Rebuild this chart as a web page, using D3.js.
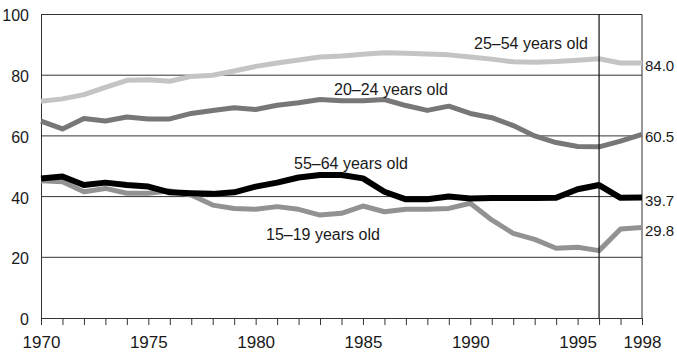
<!DOCTYPE html>
<html lang="en">
<head>
<meta charset="UTF-8">
<title>Labor force participation by age</title>
<script src="https://cdn.jsdelivr.net/npm/d3@7"></script>
<style>
    body { margin: 0; background: #fff; }
    svg { display: block; }
    text {
        font-family: "Liberation Sans", Arial, sans-serif;
        font-size: 16px;
        fill: #1a1a1a;
    }
    .x-axis text { font-size: 17px; }
    .end-label { font-size: 15px; }
</style>
</head>
<body>
<svg id="chart"></svg>
<script>
    const years = [1970, 1971, 1972, 1973, 1974, 1975, 1976, 1977, 1978, 1979,
                   1980, 1981, 1982, 1983, 1984, 1985, 1986, 1987, 1988, 1989,
                   1990, 1991, 1992, 1993, 1994, 1995, 1996, 1997, 1998];

    const age25to54 = [71.4, 72.2, 73.6, 76.0, 78.3, 78.5, 78.0, 79.6, 80.0, 81.4,
                       82.9, 84.0, 85.0, 86.0, 86.3, 86.9, 87.4, 87.2, 87.0, 86.7,
                       86.0, 85.3, 84.4, 84.3, 84.5, 84.9, 85.4, 84.0, 84.0];
    const age20to24 = [64.9, 62.3, 65.7, 64.9, 66.2, 65.6, 65.6, 67.4, 68.4, 69.3,
                       68.7, 70.1, 70.9, 72.0, 71.6, 71.6, 72.0, 70.0, 68.4, 69.8,
                       67.4, 66.0, 63.4, 60.0, 57.8, 56.5, 56.4, 58.3, 60.5];
    const age55to64 = [46.0, 46.6, 43.8, 44.6, 43.8, 43.3, 41.4, 41.1, 40.9, 41.4,
                       43.3, 44.6, 46.3, 47.1, 47.1, 46.0, 41.6, 39.1, 39.1, 40.0,
                       39.4, 39.5, 39.5, 39.5, 39.6, 42.4, 43.8, 39.6, 39.7];
    const age15to19 = [45.2, 44.9, 41.6, 42.7, 41.1, 41.1, 41.9, 40.5, 37.2, 36.1,
                       35.8, 36.7, 35.8, 33.9, 34.5, 36.9, 35.0, 35.8, 35.8, 36.1,
                       37.8, 32.3, 27.9, 25.9, 23.0, 23.3, 22.2, 29.3, 29.8];

    const yTicks = [0, 20, 40, 60, 80, 100];
    const xLabels = [1970, 1975, 1980, 1985, 1990, 1995, 1998];
    const markerYear = 1996;

    const series = [
        { name: "25–54 years old", values: age25to54, color: "#c4c4c4", width: 5, end: "84.0", lx: 474, ly: 49 },
        { name: "20–24 years old", values: age20to24, color: "#777777", width: 5, end: "60.5", lx: 334, ly: 95 },
        { name: "15–19 years old", values: age15to19, color: "#929292", width: 5, end: "29.8", lx: 266, ly: 240 },
        { name: "55–64 years old", values: age55to64, color: "#000000", width: 6, end: "39.7", lx: 294, ly: 169 }
    ];

    const width = 677, height = 352;
    const margin = { top: 14.5, right: 35, bottom: 34, left: 41 };

    const svg = d3.select("#chart")
        .attr("width", width)
        .attr("height", height);

    const x = d3.scaleLinear()
        .domain([1970, 1998])
        .range([margin.left, width - margin.right]);

    const y = d3.scaleLinear()
        .domain([0, 100])
        .range([height - margin.bottom, margin.top]);

    // horizontal grid lines
    svg.append("g")
        .selectAll("line")
        .data(yTicks.filter(d => d > 0))
        .join("line")
        .attr("x1", x(1970))
        .attr("x2", x(1998))
        .attr("y1", d => y(d))
        .attr("y2", d => y(d))
        .attr("stroke", "#333")
        .attr("stroke-width", 1);

    // left axis, labels only
    const yAxis = svg.append("g")
        .attr("transform", `translate(${x(1970)},0)`)
        .call(d3.axisLeft(y).tickValues(yTicks).tickSize(0).tickPadding(12));
    yAxis.select(".domain").attr("stroke", "#333");
    yAxis.selectAll("text").attr("dy", "0.4em");

    // right border
    svg.append("line")
        .attr("x1", x(1998)).attr("x2", x(1998))
        .attr("y1", y(0)).attr("y2", y(100))
        .attr("stroke", "#333");

    // bottom axis: tick per year, labels on a few
    const xAxis = svg.append("g")
        .attr("class", "x-axis")
        .attr("transform", `translate(0,${y(0)})`)
        .call(d3.axisBottom(x)
            .tickValues(years)
            .tickSize(7)
            .tickPadding(11)
            .tickFormat(d => xLabels.includes(d) ? d : ""));
    xAxis.select(".domain").attr("stroke", "#333");
    xAxis.selectAll("line").attr("stroke", "#333");

    const line = d3.line()
        .x((d, i) => x(years[i]))
        .y(d => y(d));

    svg.append("g")
        .selectAll("path")
        .data(series)
        .join("path")
        .attr("d", d => line(d.values))
        .attr("fill", "none")
        .attr("stroke", d => d.color)
        .attr("stroke-width", d => d.width)
        .attr("stroke-linejoin", "round");

    // 1996 marker
    svg.append("line")
        .attr("x1", x(markerYear)).attr("x2", x(markerYear))
        .attr("y1", y(0)).attr("y2", y(100))
        .attr("stroke", "#111")
        .attr("stroke-width", 1.2);

    // series names
    svg.append("g")
        .selectAll("text")
        .data(series)
        .join("text")
        .attr("x", d => d.lx)
        .attr("y", d => d.ly)
        .text(d => d.name);

    // last values on the right
    svg.append("g")
        .selectAll("text")
        .data(series)
        .join("text")
        .attr("class", "end-label")
        .attr("x", x(1998) + 3)
        .attr("y", d => y(+d.end) + 8)
        .text(d => d.end);
</script>
</body>
</html>
